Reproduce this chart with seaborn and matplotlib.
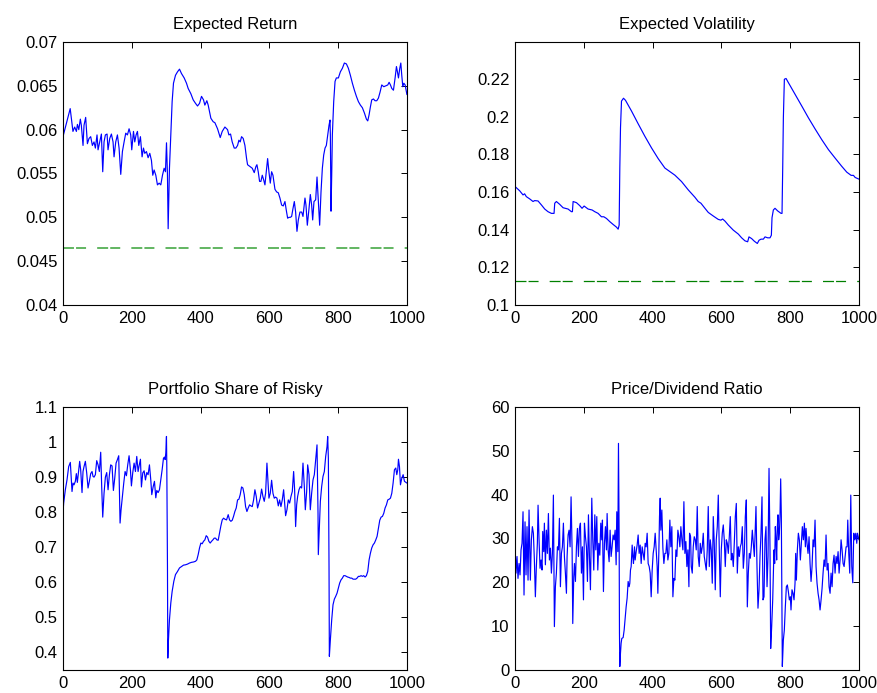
import numpy as np
import pandas as pd
import matplotlib
matplotlib.use("Agg")
import matplotlib.pyplot as plt
import seaborn as sns

# ---------------- data ----------------
ret_x = [0, 21, 29, 34, 39, 42, 46, 50.5, 53.4, 58.3, 61.2, 66, 71, 75.8, 80.6, 85.5, 90.3, 94.2, 99, 102,
         107, 111.7, 115.6, 119.4, 123.3, 128.2, 131, 136, 140.8, 145.6, 148.5, 153.4, 158.3, 163.1, 168,
         172.8, 177.7, 182.5, 187.4, 192.2, 197, 200, 205, 208.7, 212.6, 216.5, 220.4, 225.2, 230, 234,
         237.8, 242.7, 247.5, 252.4, 257.2, 261.1, 265, 269.9, 274.7, 279.6, 284.4, 289.3, 294.1, 298, 301,
         303.8, 305.8, 309.6, 313.5, 317.4, 321.3, 327.1, 333, 338.8, 344.6, 352.4, 359.1, 364, 371.8,
         378.6, 385.4, 391.2, 397, 402.8, 408.6, 412.5, 418.3, 422.2, 430, 436.8, 441.6, 449.4, 457.2, 463,
         470.8, 478.5, 482.4, 487.2, 492, 497.9, 502.7, 507.6, 511.5, 515.3, 519.2, 524, 529, 533.8, 536.7,
         543.5, 550.3, 556.1, 561, 563.9, 567.7, 571.6, 575.5, 579.4, 583.3, 587.2, 592, 595, 598.8, 602.7,
         606.6, 610.5, 616.3, 621.1, 626, 630.8, 635.7, 640.5, 645.4, 649.3, 653.2, 657, 661, 664.8, 668.7,
         672.6, 676.4, 680.3, 684.2, 689, 694, 697.8, 703.6, 706.5, 710.4, 715.3, 719.1, 723, 726, 729.8,
         734.7, 738.6, 742.4, 746.3, 750.2, 754.1, 758, 761.9, 765.7, 769.6, 773.5, 776.4, 777.4, 779.3,
         781.3, 783.2, 787.1, 791, 794.8, 800.7, 806.5, 812.3, 818.1, 824, 829.8, 835.6, 841.4, 847.3,
         853.1, 858.9, 864.7, 870.5, 876.4, 882.2, 886.1, 890, 893.8, 897.7, 902.6, 907.4, 912.3, 917.1,
         922, 926.8, 932.7, 938.5, 944.3, 948.2, 952.1, 956, 960.8, 965.6, 969.5, 972.4, 975.4, 979.2,
         982.2, 985, 988, 991, 994.8, 1000]
ret_y = [0.0592, 0.0624, 0.0598, 0.0603, 0.0598, 0.0606, 0.0600, 0.0612, 0.0605, 0.0582, 0.0605, 0.0614,
         0.0584, 0.0590, 0.0592, 0.0582, 0.0586, 0.0579, 0.0594, 0.0577, 0.0586, 0.0595, 0.0552, 0.0586,
         0.0594, 0.0595, 0.0577, 0.0590, 0.0595, 0.0586, 0.0569, 0.0586, 0.0594, 0.0579, 0.0549, 0.0575,
         0.0586, 0.0596, 0.0594, 0.0601, 0.0594, 0.0577, 0.0598, 0.0586, 0.0594, 0.0598, 0.0582, 0.0592,
         0.0569, 0.0579, 0.0573, 0.0575, 0.0568, 0.0573, 0.0565, 0.0548, 0.0554, 0.0548, 0.0537, 0.0539,
         0.0537, 0.0548, 0.0556, 0.0552, 0.0585, 0.0548, 0.0487, 0.0556, 0.0594, 0.0632, 0.0653, 0.0662,
         0.0666, 0.0669, 0.0664, 0.0659, 0.0653, 0.0647, 0.0641, 0.0634, 0.0630, 0.0627, 0.0630, 0.0638,
         0.0634, 0.0628, 0.0633, 0.0628, 0.0613, 0.0609, 0.0608, 0.0601, 0.0591, 0.0598, 0.0603, 0.0600,
         0.0594, 0.0595, 0.0586, 0.0579, 0.0579, 0.0582, 0.0588, 0.0586, 0.0592, 0.0590, 0.0582, 0.0567,
         0.0560, 0.0558, 0.0556, 0.0551, 0.0558, 0.0560, 0.0552, 0.0541, 0.0541, 0.0548, 0.0543, 0.0537,
         0.0556, 0.0567, 0.0552, 0.0539, 0.0552, 0.0548, 0.0532, 0.0529, 0.0528, 0.0522, 0.0514, 0.0513,
         0.0518, 0.0508, 0.0499, 0.0500, 0.0500, 0.0501, 0.0510, 0.0518, 0.0506, 0.0484, 0.0497, 0.0506,
         0.0506, 0.0501, 0.0522, 0.0514, 0.0491, 0.0510, 0.0526, 0.0514, 0.0497, 0.0518, 0.0520, 0.0546,
         0.0518, 0.0491, 0.0529, 0.0556, 0.0571, 0.0579, 0.0582, 0.0594, 0.0605, 0.0611, 0.0594, 0.0507,
         0.0548, 0.0594, 0.0632, 0.0655, 0.0659, 0.0659, 0.0666, 0.0670, 0.0676, 0.0675, 0.0670, 0.0662,
         0.0653, 0.0645, 0.0638, 0.0632, 0.0628, 0.0625, 0.0619, 0.0612, 0.0610, 0.0617, 0.0626, 0.0634,
         0.0635, 0.0633, 0.0633, 0.0636, 0.0643, 0.0651, 0.0649, 0.0650, 0.0651, 0.0654, 0.0651, 0.0647,
         0.0645, 0.0659, 0.0672, 0.0666, 0.0659, 0.0670, 0.0676, 0.0662, 0.0649, 0.0653, 0.0651, 0.0640]
ret_benchmark = 0.04645

vol_x = [0, 13.7, 23.4, 28, 33, 42.8, 52.5, 57.3, 67, 76.8, 86.5, 96, 105.9, 113.6, 115.6, 120.4, 130,
         139.8, 154.4, 164, 167, 169, 178.7, 188.4, 195, 201, 212.6, 224.3, 232, 241.7, 251.4, 258.2, 266,
         275.7, 285.4, 295, 300, 302.9, 304.8, 306.8, 309.7, 315.5, 321.3, 338.8, 358.2, 377.6, 397, 416.4,
         435.8, 465, 484.3, 503.7, 523, 532.8, 540.6, 552.3, 562, 576.5, 591, 598.8, 603.7, 610.5, 620.2,
         634.7, 649.3, 659, 668.7, 676.5, 680.3, 688, 695.9, 704.6, 709.5, 715.3, 722.1, 727, 734.7, 741.5,
         745.4, 747.3, 751.2, 756, 763.8, 773.5, 776.4, 778.4, 780.3, 783.2, 788.1, 794.9, 814.3, 833.7,
         853.1, 872.5, 891.9, 911.3, 930.7, 950.1, 964.7, 977.3, 984.1, 989, 1000]
vol_y = [0.1630, 0.1607, 0.1585, 0.1591, 0.1576, 0.1564, 0.1550, 0.1555, 0.1553, 0.1532, 0.1510, 0.1496,
         0.1487, 0.1487, 0.1541, 0.1550, 0.1535, 0.1517, 0.1510, 0.1496, 0.1496, 0.1550, 0.1544, 0.1528,
         0.1514, 0.1526, 0.1510, 0.1505, 0.1496, 0.1487, 0.1469, 0.1469, 0.1460, 0.1443, 0.1428, 0.1414,
         0.1403, 0.1425, 0.1728, 0.1942, 0.2084, 0.2099, 0.2088, 0.2031, 0.1963, 0.1897, 0.1835, 0.1778,
         0.1728, 0.1690, 0.1656, 0.1612, 0.1573, 0.1550, 0.1541, 0.1514, 0.1492, 0.1473, 0.1455, 0.1451,
         0.1457, 0.1446, 0.1425, 0.1398, 0.1377, 0.1357, 0.1341, 0.1336, 0.1362, 0.1353, 0.1339, 0.1327,
         0.1344, 0.1350, 0.1350, 0.1362, 0.1357, 0.1357, 0.1371, 0.1464, 0.1505, 0.1514, 0.1500, 0.1487,
         0.1487, 0.1728, 0.1995, 0.2200, 0.2204, 0.2182, 0.2120, 0.2058, 0.1995, 0.1936, 0.1879, 0.1826,
         0.1781, 0.1737, 0.1706, 0.1689, 0.1689, 0.1678, 0.1669]
vol_benchmark = 0.1130

share_x = [0, 2, 6.9, 11.7, 16.6, 21.4, 26.3, 29.2, 32.1, 36, 38.9, 41.8, 45.7, 48.6, 51.5, 55.4, 58.3,
           61.2, 65.1, 69, 72.9, 76.7, 80.6, 84.5, 87.4, 90.3, 94.2, 98.1, 102, 105.8, 109.7, 112.6, 115.6,
           119.4, 123.3, 127.2, 131.1, 135, 138.8, 142.7, 146.6, 150.5, 154.4, 158.3, 162.1, 166, 168.9,
           172.8, 176.7, 180.6, 184.5, 188.3, 192.2, 196.1, 199, 202.9, 206.8, 210.7, 214.5, 218.4, 221.3,
           225.2, 228.1, 232, 235.9, 239.8, 243.7, 247.5, 251.4, 255.3, 258.2, 262.1, 266, 269.9, 272.8,
           276.7, 280.5, 284.4, 288.3, 292.2, 295.1, 297, 299, 300.9, 301.9, 303.8, 304.8, 306.7, 309.6,
           313.5, 317.4, 322.3, 327.1, 333, 338.8, 344.6, 350.4, 356.2, 362.1, 367.9, 373.7, 379.5, 385.4,
           389.2, 393.1, 397, 400.9, 404.8, 408.6, 412.5, 416.4, 420.3, 424.2, 428, 431.9, 435.8, 439.7,
           443.6, 447.5, 451.3, 455.2, 459.1, 463, 466.9, 470.8, 475.6, 480.4, 484.3, 488.2, 492.1, 495.9,
           499.8, 503.7, 507.6, 511.5, 515.3, 519.2, 523.1, 527, 530.9, 534.8, 538.6, 542.5, 546.4, 550.3,
           554.2, 558, 561.9, 565.8, 569.7, 573.6, 577.5, 581.3, 585.2, 589.1, 593, 595.9, 598.8, 602.7,
           606.6, 610.5, 614.3, 618.2, 622.1, 626, 629.9, 633.7, 637.6, 641.5, 645.4, 647.3, 651.2, 655.1,
           659, 662.9, 666.7, 670.6, 673.5, 676.4, 679.4, 682.3, 686.2, 690, 693.9, 697.8, 701.7, 704.6,
           708.5, 711.4, 715.3, 719.1, 723, 726.9, 730.8, 734.7, 738.6, 741.5, 742.4, 745.4, 748.3, 752.1,
           756, 759.9, 763.8, 767.7, 769.6, 771.6, 773.5, 774.5, 777.4, 781.3, 785.1, 789, 792.9, 796.8,
           800.7, 804.5, 808.4, 812.3, 816.2, 820.1, 824, 827.8, 831.7, 835.6, 839.5, 843.4, 847.3, 851.1,
           855, 858.9, 862.8, 866.7, 870.6, 874.4, 878.3, 882.2, 886.1, 890, 893.8, 897.7, 901.6, 905.5,
           909.4, 913.2, 917.1, 921, 924.9, 928.8, 932.7, 936.5, 940.4, 944.3, 948.2, 952.1, 956, 959.8,
           963.7, 967.6, 970.5, 973.4, 975.4, 978.3, 981.2, 985.1, 989, 992.8, 1000]
share_y = [0.797, 0.826, 0.864, 0.892, 0.930, 0.942, 0.859, 0.883, 0.878, 0.888, 0.910, 0.885, 0.921,
           0.945, 0.921, 0.856, 0.916, 0.930, 0.945, 0.912, 0.869, 0.888, 0.910, 0.916, 0.902, 0.900,
           0.907, 0.947, 0.935, 0.916, 0.971, 0.873, 0.786, 0.854, 0.900, 0.913, 0.864, 0.907, 0.935,
           0.932, 0.862, 0.897, 0.940, 0.950, 0.961, 0.769, 0.807, 0.845, 0.883, 0.916, 0.904, 0.935,
           0.961, 0.921, 0.875, 0.913, 0.940, 0.916, 0.959, 0.916, 0.932, 0.951, 0.872, 0.912, 0.918,
           0.892, 0.913, 0.907, 0.935, 0.892, 0.850, 0.872, 0.888, 0.841, 0.862, 0.856, 0.864, 0.892,
           0.921, 0.954, 0.957, 0.950, 0.969, 1.016, 0.930, 0.645, 0.384, 0.436, 0.493, 0.541, 0.574,
           0.603, 0.622, 0.631, 0.641, 0.645, 0.649, 0.650, 0.652, 0.655, 0.657, 0.658, 0.660, 0.664,
           0.679, 0.698, 0.712, 0.710, 0.717, 0.721, 0.733, 0.729, 0.717, 0.712, 0.717, 0.721, 0.726,
           0.726, 0.721, 0.720, 0.740, 0.761, 0.778, 0.783, 0.780, 0.778, 0.793, 0.778, 0.774, 0.777,
           0.788, 0.802, 0.812, 0.835, 0.837, 0.850, 0.872, 0.869, 0.850, 0.816, 0.802, 0.812, 0.821,
           0.818, 0.816, 0.835, 0.864, 0.845, 0.812, 0.826, 0.840, 0.866, 0.845, 0.831, 0.854, 0.940,
           0.888, 0.840, 0.854, 0.891, 0.854, 0.840, 0.843, 0.840, 0.818, 0.835, 0.816, 0.835, 0.864,
           0.816, 0.790, 0.807, 0.835, 0.826, 0.845, 0.859, 0.916, 0.864, 0.759, 0.821, 0.845, 0.864,
           0.873, 0.869, 0.940, 0.873, 0.807, 0.859, 0.935, 0.907, 0.807, 0.854, 0.892, 0.907, 0.950,
           0.992, 0.797, 0.679, 0.759, 0.831, 0.873, 0.902, 0.916, 0.959, 0.987, 1.016, 0.954, 0.645,
           0.389, 0.436, 0.493, 0.536, 0.552, 0.560, 0.569, 0.584, 0.598, 0.607, 0.612, 0.619, 0.619,
           0.617, 0.615, 0.614, 0.612, 0.612, 0.609, 0.609, 0.609, 0.612, 0.617, 0.617, 0.619, 0.617,
           0.619, 0.615, 0.619, 0.631, 0.664, 0.683, 0.698, 0.707, 0.712, 0.721, 0.731, 0.755, 0.777,
           0.786, 0.788, 0.797, 0.812, 0.821, 0.835, 0.837, 0.840, 0.854, 0.883, 0.921, 0.926, 0.907,
           0.921, 0.951, 0.930, 0.878, 0.897, 0.907, 0.888, 0.883]

pd_x = [0, 3, 5.9, 8.8, 11.8, 14.7, 17.6, 20.5, 23.4, 26.3, 29.2, 32.1, 35, 38, 40.9, 44.7, 47.7, 50.6,
        53.5, 56.4, 59.3, 62.2, 65.1, 67.1, 70, 72.9, 75.8, 78.7, 80.7, 83.6, 85.5, 88.4, 91.3, 94.2,
        97.2, 100.1, 103, 105.9, 108.8, 111.7, 114.6, 117.5, 120.4, 123.4, 126.3, 129.2, 132.1, 135,
        137.9, 140.8, 143.7, 146.6, 149.6, 151.5, 154.4, 157.3, 160.2, 163.1, 166.1, 168, 170.9, 172.9,
        175.8, 178.7, 181.6, 184.5, 187.4, 190.3, 193.2, 196.1, 199.1, 202, 204.9, 207.8, 210.7, 213.6,
        216.5, 219.4, 223.3, 226.2, 229.1, 232.1, 235, 237.9, 240.8, 243.7, 246.6, 249.5, 252.4,
        254.3, 257.2, 260.1, 263, 265.9, 267.9, 270.8, 273.7, 276.6, 279.5, 282.4, 285.3, 288.3, 291.2,
        294.1, 296, 299, 300.9, 302.8, 303.8, 304.8, 306.7, 308.6, 310.6, 314.5, 317.4, 320.3, 323.2,
        326.1, 329, 331.9, 333.9, 335.8, 337.8, 340.7, 342.6, 344.5, 347.5, 349.4, 352.3, 355.2, 358.1,
        361, 364, 366.9, 369.8, 372.7, 375.6, 378.5, 381.4, 384.3, 387.2, 390.2, 393.1, 396, 398.9,
        401.8, 404.7, 407.6, 410.5, 413.4, 415.4, 418.3, 420.2, 422.2, 424.1, 427, 430, 432.9, 435.8,
        438.7, 441.6, 444.5, 447.4, 450.3, 453.2, 456.1, 459.1, 462, 464.9, 467.8, 470.7, 473.6, 476.5,
        479.4, 482.3, 485.3, 488.2, 491.1, 494, 496.9, 499.8, 502.7,
        505.7, 507.6, 510.5, 512.5, 515.4, 518.3, 521.2, 524.1, 527, 529.9, 532.8, 535.7, 538.7, 541.6,
        544.5, 547.4, 550.3, 553.2, 556.1, 559, 561.9, 564.9, 567.8, 570.7, 573.6, 576.5, 579.4, 582.3,
        585.2, 588.2, 591.1, 594, 596.9, 599.8, 602.7, 605.6, 608.5, 611.4, 614.4, 617.3, 620.2, 623.1,
        626, 628.9, 631.8, 634.7, 637.6, 640.6, 643.5, 646.4, 649.3, 652.2, 655.1, 658, 660.9, 663.8,
        666.8, 669.7, 672.6, 675.5, 678.4, 681.3, 684.2, 687.1, 690, 693, 695.9, 698.8, 700.7, 703.6,
        706.5, 709.5, 712.4, 715.3, 718.2, 721.1, 724, 726.9, 729.8, 732.8, 735.7, 738.6, 741.5, 743.4,
        746.3, 749.3,
        753, 755, 756.9, 758.9, 760.8, 762.8, 764.7, 766.6, 768.6, 770.5, 772.5, 774.4, 777.3, 780.2,
        783.1, 786, 789, 791.9, 794.8, 797.7, 800.6, 802.5, 805.4, 808.4, 811.3, 814.2, 816.1, 818.1,
        821, 823.9, 826.8, 829.7, 832.6, 835.5, 838.5, 841.4, 844.3, 846.2, 849.1, 852, 855, 857.9,
        860.8, 863.7, 866.6, 869.5, 872.4, 875.3, 878.2, 881.2, 884.1, 887, 889.9, 892.8, 895.7, 898.6,
        901.5, 904.4, 907.4, 910.3, 913.2, 916.1, 919, 921.9, 924.8, 927.7, 930.6, 933.6, 936.5, 939.4,
        942.3, 945.2, 948.1, 951, 953.9, 956.9, 959.8, 962.7, 965.6, 967.5, 970.4, 973.3, 976.3, 979.2,
        982.1, 985, 987.9, 990.8, 993.7, 995.7, 1000]
pd_y = [28.9, 22.1, 25.9, 20.9, 24.3, 21.7, 27.4, 28.9, 36.1, 17.1, 33.8, 21.7, 32.7, 20.5, 36.5, 20.5,
        29.7, 32.7, 31.2, 25.1, 16.7, 23.6, 28.9, 37.6, 29.7, 23.2, 25.1, 22.8, 31.6, 27.0, 33.5, 24.0,
        31.9, 26.6, 35.7, 25.1, 27.8, 22.1, 26.6, 39.9, 9.9, 19.0, 22.1, 28.1, 27.4, 34.6, 19.0, 26.6,
        28.1, 33.5, 25.9, 22.1, 17.5, 25.9, 30.8, 31.9, 28.1, 39.5, 27.4, 10.6, 21.3, 24.3, 20.2, 28.1,
        32.3, 25.9, 32.3, 33.5, 22.1, 28.1, 16.0, 33.5, 30.4, 28.1, 20.2, 35.4, 25.9, 18.3, 39.2, 29.7,
        22.8, 35.4, 27.4, 35.0, 22.8, 28.9, 26.2, 33.5, 29.7,
        34.2, 17.9, 28.9, 32.7, 27.4, 35.7, 27.4, 24.7, 31.9, 25.9, 28.1, 30.8, 29.7, 31.9, 24.0, 36.1,
        27.0, 51.7, 31.2, 8.4, 0.8, 3.8, 6.1, 7.2, 7.4, 9.1, 11.8, 14.4, 16.4, 20.2, 19.0, 19.8, 22.8,
        23.6, 28.5, 25.9, 24.3, 28.1, 25.1, 27.0, 28.5, 30.8, 26.6, 28.5, 24.3, 28.1, 26.6, 25.1, 28.9,
        28.1, 31.2, 24.3, 23.6, 22.1, 16.7, 22.8, 26.6, 28.1, 31.2, 27.4, 23.6, 17.5, 27.0, 35.0, 39.2,
        31.9, 36.5, 27.8, 24.3, 26.6, 26.6, 29.7, 25.1, 26.6, 34.2, 28.1, 32.7, 16.7, 20.9, 20.5, 27.4,
        25.9, 31.9, 30.4, 28.1, 32.7, 29.7, 27.4, 38.4, 26.6, 29.3, 23.6, 27.4,
        19.0, 31.2, 30.4, 23.6, 22.1, 28.1, 30.4, 29.7, 27.4, 37.3, 25.9, 23.6, 28.9, 26.6, 28.1, 31.2,
        25.9, 24.3, 22.8, 27.4, 37.3, 23.6, 29.7, 27.4, 19.8, 35.0, 28.9, 18.3, 29.7, 32.7, 39.9, 27.4,
        16.7, 27.4, 31.2, 33.1, 29.7, 23.6, 29.7, 28.9, 26.6, 30.4, 35.0, 25.1, 26.6, 23.6, 28.9, 35.0,
        38.0, 22.1, 28.1, 25.9, 28.1, 28.9, 32.7, 23.2, 26.6, 35.0, 38.8, 14.4, 22.1, 26.6, 25.5, 28.1,
        31.9, 28.9, 25.9, 32.7, 37.3, 23.6, 14.1, 18.3, 25.9, 31.2, 39.5, 16.0, 16.7, 29.7, 32.7, 19.0,
        25.9, 46.0, 27.4, 4.9, 9.9, 16.0,
        27.4, 24.3, 32.7, 29.7, 25.1, 32.7, 35.4, 29.7, 31.2, 35.0, 43.6, 35.0, 0.8, 6.8, 9.1, 14.4,
        19.0, 19.4, 17.9, 16.0, 16.7, 13.7, 18.3, 17.5, 16.0, 19.8, 26.6, 20.5, 27.4, 31.2, 29.7, 25.1,
        28.9, 32.7, 29.7, 33.5, 28.1, 32.3, 28.9, 26.6, 30.4, 24.3, 20.2, 23.6, 29.7, 28.1, 34.2, 23.6,
        19.8, 17.5, 16.0, 13.7, 16.0, 18.6, 22.1, 25.1, 23.6, 30.8, 22.8, 24.3, 19.0, 17.5, 22.1, 19.0,
        24.3, 26.2, 22.1, 25.9, 24.3, 27.0, 22.1, 25.1, 29.7, 27.4, 24.3, 23.6, 25.9, 28.1, 28.1, 34.2,
        26.6, 22.1, 39.9, 23.6, 19.9, 31.2, 29.7, 31.2, 28.9, 31.2, 29.7]

titles = ["Expected Return", "Expected Volatility", "Portfolio Share of Risky", "Price/Dividend Ratio"]
x_ticks = [0, 200, 400, 600, 800, 1000]
ret_ticks = [0.04, 0.045, 0.05, 0.055, 0.06, 0.065, 0.07]
ret_labels = ["0.04", "0.045", "0.05", "0.055", "0.06", "0.065", "0.07"]
vol_ticks = [0.1, 0.12, 0.14, 0.16, 0.18, 0.2, 0.22]
vol_labels = ["0.1", "0.12", "0.14", "0.16", "0.18", "0.2", "0.22"]
share_ticks = [0.4, 0.5, 0.6, 0.7, 0.8, 0.9, 1.0, 1.1]
share_labels = ["0.4", "0.5", "0.6", "0.7", "0.8", "0.9", "1", "1.1"]
pd_ticks = [0, 10, 20, 30, 40, 50, 60]
pd_labels = ["0", "10", "20", "30", "40", "50", "60"]

# ---------------- style ----------------
sns.set_theme(style="white")
plt.rcParams["font.family"] = ["Liberation Sans", "DejaVu Sans"]
plt.rcParams["lines.scale_dashes"] = False
plt.rcParams["axes.linewidth"] = 0.8
plt.rcParams["axes.edgecolor"] = "black"

fig = plt.figure(figsize=(8.77, 6.93), dpi=100)
fig.patch.set_facecolor("white")

w = 0.3922
h = 0.3795
positions = [[0.0718, 0.5599, w, h], [0.5872, 0.5599, w, h],
             [0.0718, 0.0332, w, h], [0.5872, 0.0332, w, h]]
axes = [fig.add_axes(p) for p in positions]

BLUE = "#0000ff"
LW = 0.85
dash_seq = (7.9, 1.5, 7.2, 8.0)

def style(ax, title, yticks, ylabels, ylim):
    ax.set_xlim(0, 1000)
    ax.set_ylim(*ylim)
    ax.set_xticks(x_ticks)
    ax.set_xticklabels([str(t) for t in x_ticks])
    ax.set_yticks(yticks)
    ax.set_yticklabels(ylabels)
    ax.tick_params(direction="in", length=4, width=0.7, top=True, right=True,
                   labelsize=12, colors="black", pad=4)
    ax.set_title(title, fontsize=12, pad=9, color="black")
    ax.set_xlabel("")
    ax.set_ylabel("")
    for s in ax.spines.values():
        s.set_visible(True)
        s.set_color("black")
        s.set_linewidth(0.8)
    ax.grid(False)

# Expected return
ax = axes[0]
df = pd.DataFrame({"t": ret_x, "v": ret_y})
sns.lineplot(data=df, x="t", y="v", ax=ax, color=BLUE, lw=LW, estimator=None, sort=False)
bl = ax.axhline(ret_benchmark, color="#55b055", lw=1.3)
bl.set_dashes(dash_seq)
style(ax, titles[0], ret_ticks, ret_labels, (0.04, 0.07))

# Expected volatility
ax = axes[1]
df = pd.DataFrame({"t": vol_x, "v": vol_y})
sns.lineplot(data=df, x="t", y="v", ax=ax, color=BLUE, lw=LW, estimator=None, sort=False)
bl = ax.axhline(vol_benchmark, color="#008000", lw=0.9)
bl.set_dashes(dash_seq)
style(ax, titles[1], vol_ticks, vol_labels, (0.1, 0.2398))

# Portfolio share
ax = axes[2]
df = pd.DataFrame({"t": share_x, "v": share_y})
sns.lineplot(data=df, x="t", y="v", ax=ax, color=BLUE, lw=LW, estimator=None, sort=False)
style(ax, titles[2], share_ticks, share_labels, (0.35, 1.1))

# Price/dividend
ax = axes[3]
df = pd.DataFrame({"t": pd_x, "v": pd_y})
sns.lineplot(data=df, x="t", y="v", ax=ax, color=BLUE, lw=LW, estimator=None, sort=False)
style(ax, titles[3], pd_ticks, pd_labels, (0, 60))

fig.savefig("out.png", dpi=100, facecolor="white")
